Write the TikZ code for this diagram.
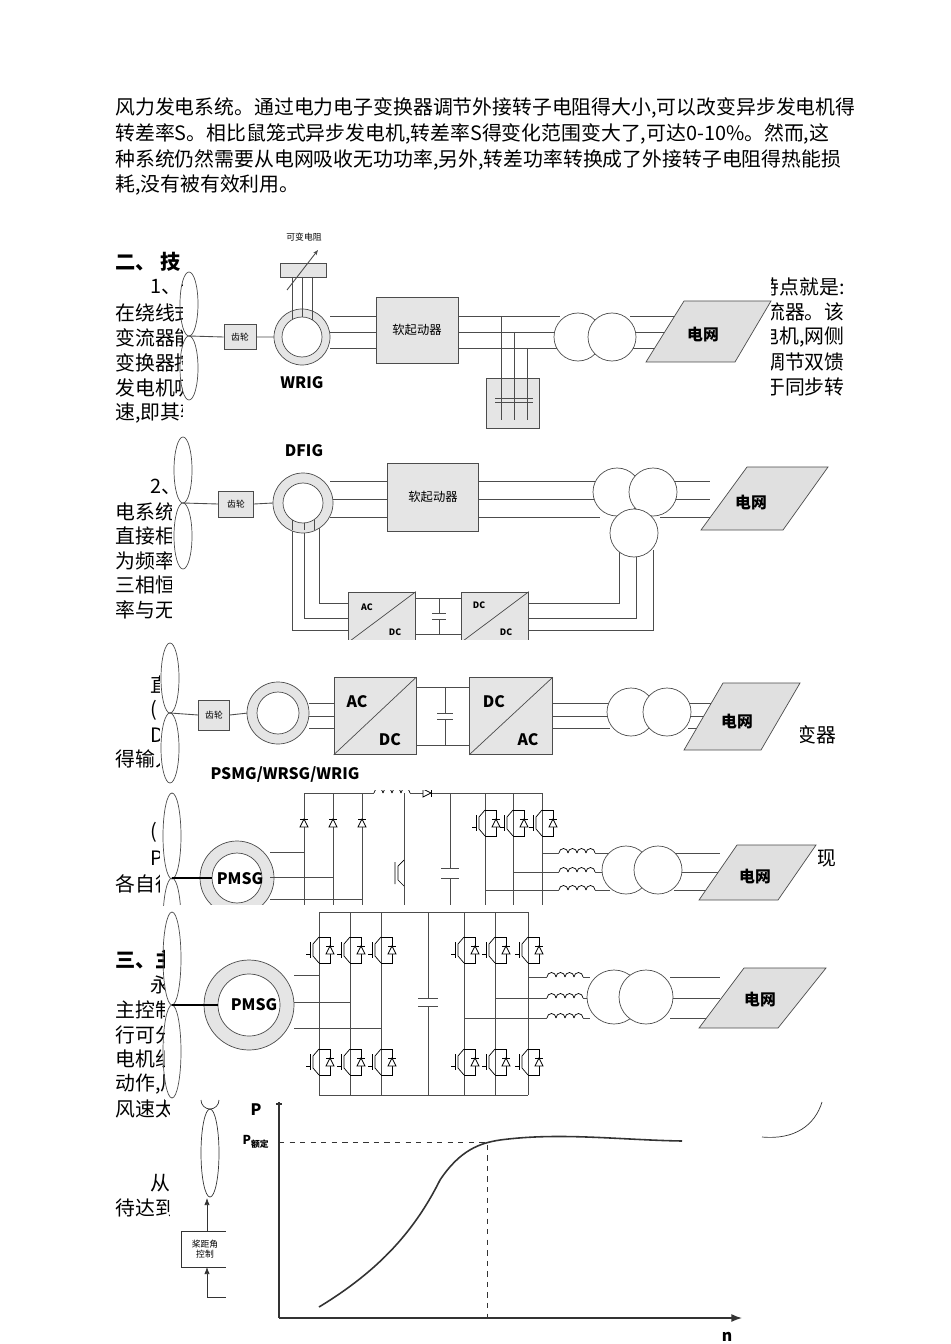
\documentclass[tikz,border=0pt]{standalone}
\usepackage{fontspec}
\setmainfont{Noto Sans CJK SC}
\usetikzlibrary{arrows.meta}
\tikzset{
  box/.style={draw=black!70, fill=black!10},
  wire/.style={draw=black!70, line width=0.5pt},
  grid/.style={draw=black!70, fill=black!12},
  txt/.style={font=\fontsize{11.3}{12}\selectfont, inner sep=0pt},
  lbl/.style={font=\fontsize{9}{10}\selectfont\bfseries, inner sep=0pt},
  panel/.style={fill=white, draw=none},
}
% small symbols, arguments in pixel units
\newcommand\dio[2]{\draw[fill=white] ({#1-4},{#2+4}) -- ({#1+4},{#2+4}) -- (#1,{#2-4}) -- cycle; \draw ({#1-4},{#2-4}) -- ({#1+4},{#2-4});}
\newcommand\sw[2]{%
  \draw (#1,{#2-13}) -- ({#1-6},{#2-6}) -- ({#1-6},{#2+6}) -- (#1,{#2+13});
  \draw ({#1-9},{#2-8}) -- ({#1-9},{#2+8}) ({#1-9},{#2+4}) -- ({#1-13},{#2+4});
  \draw (#1,{#2-13}) -- ({#1+11},{#2-13}) -- ({#1+11},{#2+13}) -- (#1,{#2+13});
  \dio{#1+11}{#2}}
\newcommand\coil[2]{\foreach \k in {0,1,2,3} {\draw ({#1+9*\k},#2) arc (180:360:4.5);}}
\newcommand\blades[3]{% x, hub y, half length
  \draw[black!70] (#1,{#2-#3/2}) ellipse [x radius=9, y radius=#3/2];
  \draw[black!70] (#1,{#2+#3/2}) ellipse [x radius=9, y radius=#3/2];}
\begin{document}
\begin{tikzpicture}[x=0.02cm, y=-0.02cm]
\useasboundingbox[fill=white] (0,0) rectangle (950,1344);

% page text
\node[txt, anchor=west] (l1) at (115,108) {风力发电系统。通过电力电子变换器调节外接转子电阻得大小,可以改变异步发电机得};
\node[txt, anchor=west] (l2) at (115,134) {转差率S。相比鼠笼式异步发电机,转差率S得变化范围变大了,可达0-10\%。然而,这};
\node[txt, anchor=west] (l3) at (115,160) {种系统仍然需要从电网吸收无功功率,另外,转差功率转换成了外接转子电阻得热能损};
\node[txt, anchor=west] (l4) at (115,185) {耗,没有被有效利用。};
\node[txt, anchor=west, font=\fontsize{11.5}{12}\selectfont\bfseries] at (115,262) {二、\ 技};
\node[txt, anchor=west] at (150,287) {1、一};
\foreach \t [count=\i] in {在绕线式,变流器能,变换器控,发电机吸,{速,即其转}}
  \node[txt, anchor=west] at (115,{288+25*\i}) {\t};
\foreach \t [count=\i] in {特点就是:,变流器。该,{发电机,网侧},能调节双馈,于同步转}
  \node[txt, anchor=east] at (845,{262+25*\i}) {\t};
\node[txt, anchor=west] at (150,487) {2、双};
\foreach \t [count=\i] in {电系统,直接相,为频率,三相恒,率与无}
  \node[txt, anchor=west] at (115,{487+24.6*\i}) {\t};
\node[txt, anchor=west] at (150,685) {直接};
\node[txt, anchor=west] at (150,710) {(};
\node[txt, anchor=west] at (150,735) {D};
\node[txt, anchor=west] at (115,759) {得输入};
\node[txt, anchor=east] at (837,735) {变器};
\node[txt, anchor=west] at (150,832) {(};
\node[txt, anchor=west] at (150,858) {P};
\node[txt, anchor=west] at (115,884) {各自得};
\node[txt, anchor=east] at (837,858) {现};
\node[txt, anchor=west, font=\fontsize{11.5}{12}\selectfont\bfseries] at (115,960) {三、主};
\node[txt, anchor=west] at (150,985) {永磁};
\foreach \t [count=\i] in {主控制,行可分,电机组,{动作,风},风速太}
  \node[txt, anchor=west] at (115,{985+24.8*\i}) {\t};
\node[txt, anchor=west] at (150,1183) {从};
\node[txt, anchor=west] at (115,1208) {待达到};

% ---------- diagram 1: WRIG ----------
\fill[panel] (183,225) rectangle (771,432);
\blades{189}{336}{64}
\node[box, minimum width=32*0.02cm, minimum height=25*0.02cm, font=\tiny, inner sep=0pt] (gear1) at (240,337) {齿轮};
\draw[wire] (189,336) -- (gear1.west) (gear1.east) -- (274,337);
\draw[black!70, fill=black!10] (302,337) circle [radius=28];
\draw[black!70, fill=white] (302,337) circle [radius=20];
\node[lbl] (wrig) at (302,383) {WRIG};
\node[box, minimum width=46*0.02cm, minimum height=14*0.02cm] (res) at (303,270) {};
\node[font=\tiny, inner sep=0pt] (resl) at (304,237) {可变电阻};
\foreach \x in {292,302,312} \draw[wire] (\x,277) -- (\x,{337-sqrt(400-(\x-302)^2)});
\draw[wire, -{Stealth[length=3pt]}] (287,290) -- (318,250);
\node[box, minimum width=82*0.02cm, minimum height=66*0.02cm, font=\scriptsize] (ss1) at (417,330) {软起动器};
\foreach \y in {316,332,348} {
  \draw[wire] (330,\y) -- (376,\y);
  \draw[wire] (458,\y) -- (560,\y);
  \draw[wire] (630,\y) -- (680,\y);
}
\node[box, minimum width=53*0.02cm, minimum height=50*0.02cm] (cap1) at (513,403) {};
\foreach \x/\y in {501/316,514/332,527/348} \draw[wire] (\x,\y) -- (\x,420);
\draw[wire] (495,398) -- (533,398) (495,402) -- (533,402);
\draw[black!70, fill=white] (578,337) circle [radius=24];
\draw[black!70, fill=white] (612,337) circle [radius=24];
\draw[grid] (684,301) -- (771,301) -- (735,362) -- (646,362) -- cycle;
\node[lbl, font=\small\bfseries] (g1) at (703,335) {电网};

% ---------- diagram 2: DFIG ----------
\fill[panel] (172,434) rectangle (830,640);
\blades{183}{503}{66}
\node[box, minimum width=35*0.02cm, minimum height=26*0.02cm, font=\tiny, inner sep=0pt] (gear2) at (236,504) {齿轮};
\draw[wire] (183,503) -- (gear2.west) (gear2.east) -- (273,503);
\node[lbl] (dfig) at (304,451) {DFIG};
\node[box, minimum width=91*0.02cm, minimum height=68*0.02cm, font=\scriptsize] (ss2) at (433,497) {软起动器};
\foreach \y in {481,499,517} {
  \draw[wire] (330,\y) -- (388,\y);
  \draw[wire] (479,\y) -- (600,\y);
  \draw[wire] (660,\y) -- (710,\y);
}
\foreach \x/\y in {292/630,304/618,319/603} \draw[wire] (\x,520) -- (\x,\y) -- (349,\y);
\foreach \x/\y in {619/603,636/618,653/630} \draw[wire] (528,\y) -- (\x,\y) -- (\x,550);
\draw[wire] (416,598) -- (461,598) (416,634) -- (461,634);
\draw[wire] (439,598) -- (439,613) (439,619) -- (439,634) (432,613) -- (446,613) (432,619) -- (446,619);
\draw[black!70, fill=black!10] (303,503) circle [radius=30];
\draw[black!70, fill=white] (303,503) circle [radius=20];
\foreach \x in {292,304,314} \draw[wire] (\x,{503+sqrt(400-(\x-303)^2)}) -- (\x,530);
\draw[black!70, fill=white] (617,492) circle [radius=24];
\draw[black!70, fill=white] (653,492) circle [radius=24];
\draw[black!70, fill=white] (634,533) circle [radius=24];
\draw[grid] (747,467) -- (828,467) -- (783,530) -- (701,530) -- cycle;
\node[lbl, font=\small\bfseries] (g2) at (751,503) {电网};
\node[box, minimum width=67*0.02cm, minimum height=50*0.02cm] (acdc2) at (382,617) {};
\node[box, minimum width=67*0.02cm, minimum height=50*0.02cm] (dcdc2) at (495,617) {};
\draw[black!70] (acdc2.south west) -- (acdc2.north east) (dcdc2.south west) -- (dcdc2.north east);
\node[lbl, font=\tiny\bfseries] at (367,607) {AC};
\node[lbl, font=\tiny\bfseries] at (395,632) {DC};
\node[lbl, font=\tiny\bfseries] at (479,605) {DC};
\node[lbl, font=\tiny\bfseries] at (506,632) {DC};
\fill[white] (172,640) rectangle (830,645);

% ---------- diagram 3: full converter ----------
\fill[panel] (160,643) rectangle (800,790);
\blades{170}{713}{70}
\node[box, minimum width=31*0.02cm, minimum height=30*0.02cm, font=\tiny, inner sep=0pt] (gear3) at (214,715) {齿轮};
\draw[wire] (170,713) -- (gear3.west) (gear3.east) -- (248,713);
\draw[black!70, fill=black!10] (278,713) circle [radius=31];
\draw[black!70, fill=white] (278,713) circle [radius=21];
\node[box, minimum width=82*0.02cm, minimum height=77*0.02cm] (acdc3) at (375,716) {};
\node[box, minimum width=83*0.02cm, minimum height=77*0.02cm] (dcac3) at (511,716) {};
\draw[black!70] (acdc3.south west) -- (acdc3.north east) (dcac3.south west) -- (dcac3.north east);
\node[lbl, font=\small\bfseries] at (357,702) {AC};
\node[lbl, font=\small\bfseries] at (390,740) {DC};
\node[lbl, font=\small\bfseries] at (494,702) {DC};
\node[lbl, font=\small\bfseries] at (528,740) {AC};
\foreach \y in {703,716,728} {
  \draw[wire] (309,\y) -- (334,\y);
  \draw[wire] (553,\y) -- (610,\y);
  \draw[wire] (688,\y) -- (735,\y);
}
\draw[wire] (416,687) -- (470,687) (416,745) -- (470,745);
\draw[wire] (445,687) -- (445,713) (445,719) -- (445,745) (437,713) -- (453,713) (437,719) -- (453,719);
\draw[black!70, fill=white] (631,712) circle [radius=24];
\draw[black!70, fill=white] (667,712) circle [radius=24];
\draw[grid] (723,683) -- (800,683) -- (761,750) -- (684,750) -- cycle;
\node[lbl, font=\small\bfseries] (g3) at (737,722) {电网};
\node[lbl, font=\small\bfseries] (psmg) at (285,775) {PSMG/WRSG/WRIG};

% ---------- diagram 4: PMSG with boost ----------
\fill[panel] (160,790) rectangle (818,905);
\begin{scope}
\clip (0,790) rectangle (950,905);
\draw[black!70] (172,836) ellipse [x radius=9, y radius=43];
\draw[black!70] (172,921) ellipse [x radius=9, y radius=43];
\draw[black!70, fill=black!10] (237,878) circle [radius=37];
\draw[black!70, fill=white] (237,878) circle [radius=25];
\node[lbl] (pmsg1) at (240,879) {PMSG};
\draw[black, line width=0.8pt] (172,878) -- (212,878);
\draw[wire] (304,793) -- (542,793);
\foreach \x/\y in {304/852,333/877,362/899} {
  \draw[wire] (\x,793) -- (\x,905);
  \dio{\x}{823}
  \draw[wire] (270,\y) -- (\x,\y);
}
\draw[fill=white, draw=none] (374,788) rectangle (410,798);
\coil{374}{793}
\draw[fill=white] (423,789) -- (423,797) -- (431,793) -- cycle; \draw (431,789) -- (431,797);
\draw[wire] (404,793) -- (404,905);
\draw (404,860) -- (398,866) -- (398,880) -- (404,886) (395,862) -- (395,884);
\draw[wire] (450,793) -- (450,868) (450,878) -- (450,905) (441,868) -- (459,868) (441,878) -- (459,878);
\foreach \x/\y in {485/890,513/872,542/853} {
  \draw[wire] (\x,793) -- (\x,905);
  \sw{\x}{823}
  \draw[wire] (\x,\y) -- (559,\y);
  \fill[white] (559,{\y-6}) rectangle (595,{\y+6});
  \coil{559}{\y}
  \draw[wire] (595,\y) -- (610,\y);
  \draw[wire] (674,\y) -- (720,\y);
}
\draw[black!70, fill=white] (626,870) circle [radius=24];
\draw[black!70, fill=white] (658,870) circle [radius=24];
\draw[grid] (737,845) -- (816,845) -- (778,900) -- (699,900) -- cycle;
\node[lbl, font=\small\bfseries] (g4) at (755,877) {电网};
\end{scope}

% ---------- diagram 5: back-to-back PMSG ----------
\fill[panel] (165,905) rectangle (835,1100);
\blades{172}{1005}{93}
\draw[black!70, fill=black!10] (249,1005) circle [radius=45];
\draw[black!70, fill=white] (249,1005) circle [radius=31];
\node[lbl, font=\small\bfseries] (pmsg2) at (254,1005) {PMSG};
\draw[black, line width=0.8pt] (172,1005) -- (218,1005);
\draw[wire] (319,912) -- (528,912) (319,1095) -- (528,1095);
\draw[wire] (428,912) -- (428,998) (428,1006) -- (428,1095) (418,998) -- (438,998) (418,1006) -- (438,1006);
\foreach \x in {319,350,381,464,495,528} {
  \draw[wire] (\x,912) -- (\x,1095);
  \sw{\x}{950}
  \sw{\x}{1062}
}
\foreach \x/\y in {319/975,350/1002,381/1028} \draw[wire] (294,\y) -- (\x,\y);
\foreach \x/\y in {528/977,495/998,464/1018} {
  \draw[wire] (\x,\y) -- (547,\y);
  \coil{547}{\y}
  \draw[wire] (583,\y) -- (590,\y);
  \draw[wire] (670,\y) -- (720,\y);
}
\draw[black!70, fill=white] (614,997) circle [radius=27];
\draw[black!70, fill=white] (646,997) circle [radius=27];
\draw[grid] (744,968) -- (826,968) -- (778,1028) -- (699,1028) -- cycle;
\node[lbl, font=\small\bfseries] (g5) at (760,1000) {电网};

% ---------- P-n curve ----------
\fill[panel] (170,1100) rectangle (835,1344);
\draw[black!80] (210,1153) ellipse [x radius=9, y radius=44];
\draw[black!80] (201,1100) arc (180:0:9);
\node[draw=black!80, minimum width=48*0.02cm, minimum height=36*0.02cm, font=\tiny, align=center, inner sep=1pt] (pitch) at (205,1249) {桨距角\\控制};
\fill[white] (226,1225) rectangle (240,1275);
\coordinate (pin) at (207,1297);
\draw[black!80, -{Latex[length=4pt]}] (207,1231) -- (207,1198);
\draw[black!80, -{Latex[length=4pt]}] (pin) -- (207,1267);
\draw[black!80] (pin) -- (226,1297);
\draw[black!80, line width=0.8pt] (279,1102) -- (279,1318);
\draw[black!80, line width=1.2pt] (276,1104) -- (282,1104);
\draw[black!80, line width=0.8pt, -{Latex[length=6pt]}] (279,1318) -- (742,1318);
\node[font=\bfseries\small, inner sep=0pt] (pl) at (256,1110) {P};
\node[font=\bfseries\scriptsize, inner sep=0pt] (pr) at (256,1142) {P\textsubscript{额定}};
\draw[black!80, dashed] (279,1142) -- (487,1142) -- (487,1318);
\draw[black!80, line width=0.9pt] (319,1307) .. controls (380,1270) and (415,1230) .. (440,1180)
  .. controls (460,1150) and (480,1143) .. (500,1140)
  .. controls (560,1132) and (620,1140) .. (682,1141);
\node[font=\bfseries\small, inner sep=0pt] (nl) at (727,1337) {n};
\draw[black!80] (822,1102) .. controls (815,1125) and (795,1140) .. (762,1137);
\end{tikzpicture}
\end{document}
